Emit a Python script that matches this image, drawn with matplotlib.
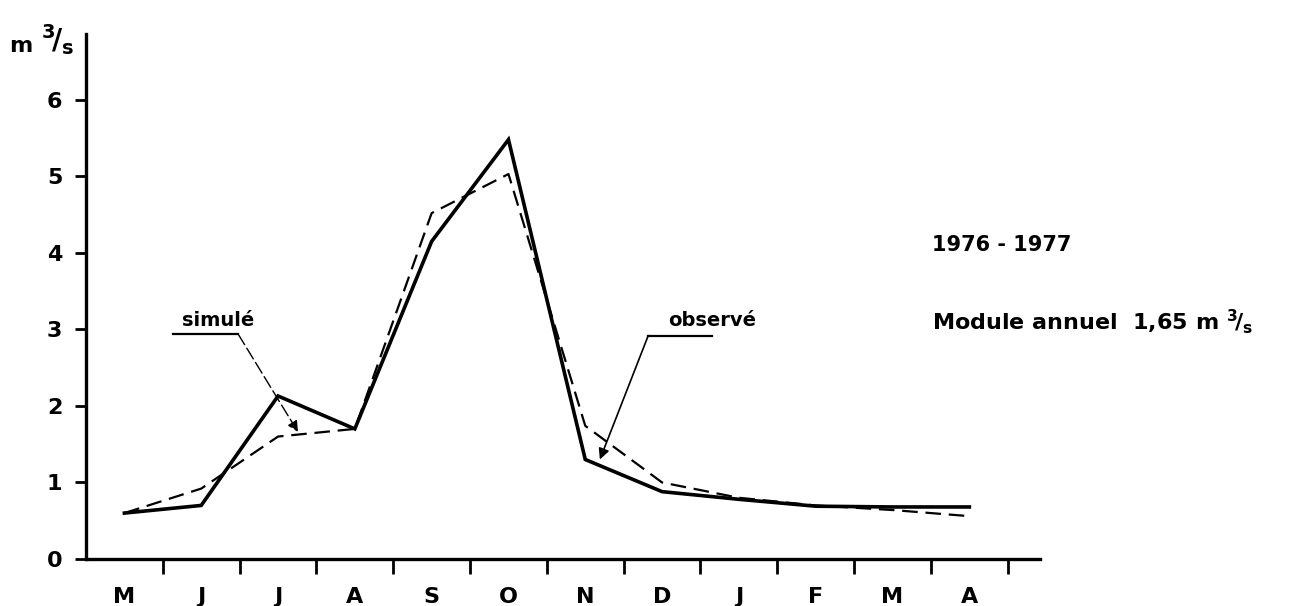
import matplotlib
matplotlib.use("Agg")
import matplotlib.pyplot as plt
import numpy as np

# monthly mean discharge (m3/s), hydrological year May 1976 - April 1977
months = ["M", "J", "J", "A", "S", "O", "N", "D", "J", "F", "M", "A"]
observe = [0.60, 0.70, 2.13, 1.70, 4.15, 5.48, 1.30, 0.88, 0.78, 0.69, 0.68, 0.68]
simule = [0.60, 0.92, 1.60, 1.70, 4.52, 5.03, 1.74, 1.00, 0.80, 0.70, 0.64, 0.56]
yticks = [0, 1, 2, 3, 4, 5, 6]

plt.rcParams['font.family'] = ['DejaVu Sans']
plt.rcParams['mathtext.fontset'] = 'dejavusans'

fig = plt.figure(figsize=(12.9, 6.06), dpi=100)
ax = fig.add_axes([86 / 1290, 1 - 559 / 606, 954 / 1290, 525 / 606])

x = np.arange(len(months)) + 0.5
ax.plot(x, observe, color="black", lw=2.6, solid_joinstyle="miter")
ax.plot(x, simule, color="black", lw=1.6, dashes=(7, 3.5))

ax.set_xlim(0, 12.42)
ax.set_ylim(0, 6.86)

# month labels sit between the boundary ticks
ax.set_xticks(np.arange(1, len(months) + 1))
ax.set_xticklabels([])
ax.set_xticks(x, minor=True)
ax.set_xticklabels(months, minor=True, fontsize=16, fontweight="bold")
ax.tick_params(axis="x", which="minor", length=0, pad=20)
ax.tick_params(axis="x", which="major", direction="out", length=11, width=2)

ax.set_yticks(yticks)
ax.set_yticklabels([str(v) for v in yticks], fontsize=16, fontweight="bold")
ax.tick_params(axis="y", direction="out", length=8, width=2, pad=9)

for side in ["top", "right"]:
    ax.spines[side].set_visible(False)
for side in ["left", "bottom"]:
    ax.spines[side].set_linewidth(2.4)

# unit label
ax.text(-1.0, 6.7, r"$\mathbf{m}$", fontsize=16, ha="left", va="center", clip_on=False)
ax.text(-0.58, 6.78, r"$\mathbf{^3\!/_s}$", fontsize=20, ha="left", va="center", clip_on=False)

# labels with leader lines
ax.text(1.72, 3.12, "simulé", fontsize=14, fontweight="bold", ha="center", va="center")
ax.plot([1.13, 1.98], [2.94, 2.94], color="black", lw=1.6)
ax.annotate("", xy=(2.76, 1.66), xytext=(1.98, 2.94),
            arrowprops=dict(arrowstyle="-|>", color="black", lw=1.0,
                            linestyle=(0, (9, 3)), mutation_scale=16, shrinkA=0, shrinkB=0))

ax.text(8.15, 3.12, "observé", fontsize=14, fontweight="bold", ha="center", va="center")
ax.plot([7.32, 8.15], [2.92, 2.92], color="black", lw=1.6)
ax.annotate("", xy=(6.69, 1.30), xytext=(7.32, 2.92),
            arrowprops=dict(arrowstyle="-|>", color="black", lw=1.2,
                            mutation_scale=16, shrinkA=0, shrinkB=0))

# period and annual mean
fig.text(932 / 1290, 1 - 245 / 606, "1976 - 1977", fontsize=15, fontweight="bold",
         ha="left", va="center")
fig.text(932 / 1290, 1 - 322 / 606, r"Module annuel  1,65 m $\mathbf{^3\!/_s}$", fontsize=16,
         fontweight="bold", ha="left", va="center")

fig.savefig("out.png", dpi=100)
